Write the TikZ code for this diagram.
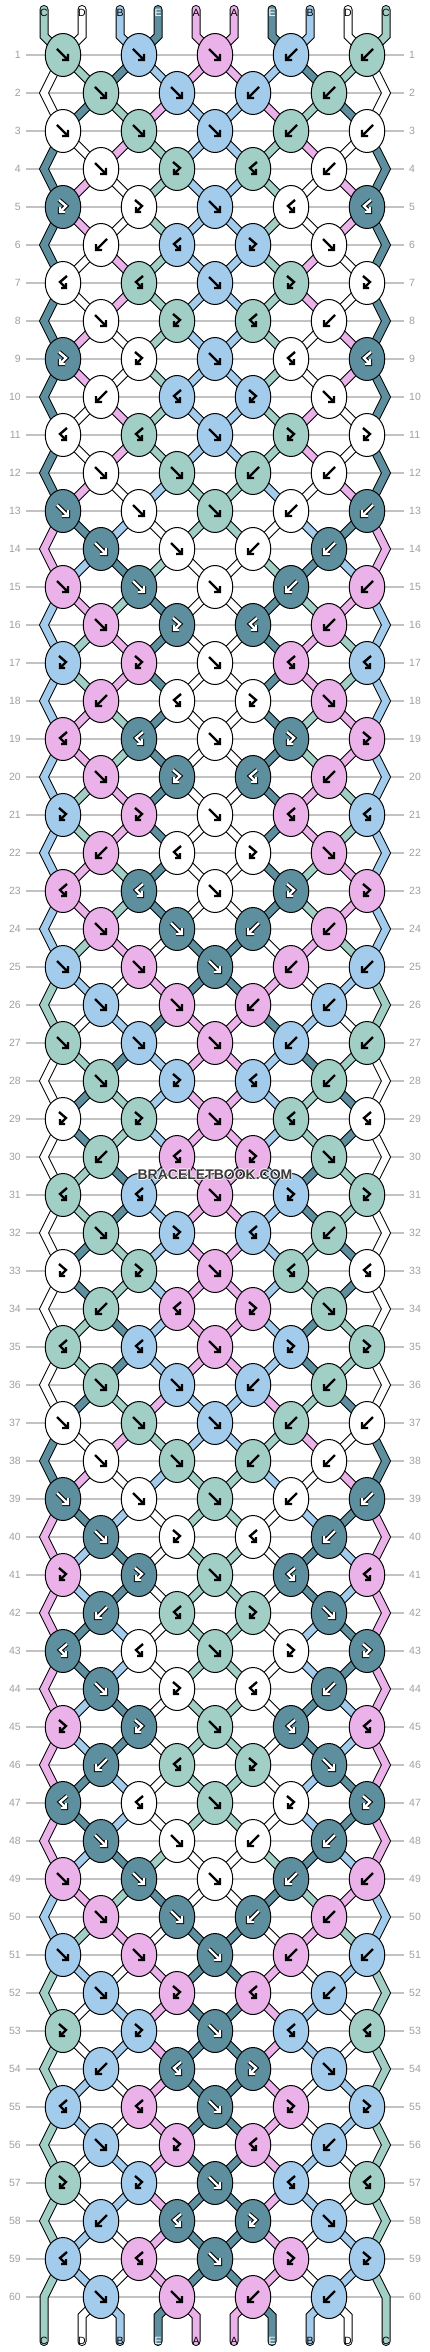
\documentclass[tikz,border=0pt]{standalone}
\usepackage{fontspec}
\setmainfont{Liberation Sans}
\usetikzlibrary{shapes.geometric}
\definecolor{colA}{HTML}{EBB2E9}
\definecolor{colB}{HTML}{A3CBEC}
\definecolor{colC}{HTML}{A1CEC5}
\definecolor{colD}{HTML}{FFFFFF}
\definecolor{colE}{HTML}{5E8F9F}
\definecolor{gridgray}{HTML}{C2C2C2}
\definecolor{numgray}{HTML}{A0A0A0}
\definecolor{wmgray}{HTML}{3A3A3A}
\pgfdeclarelayer{grid}
\pgfdeclarelayer{strings}
\pgfsetlayers{grid,strings,main}

\newcommand\St[2]{\csname st-#1-#2\endcsname}
\newcommand\KI[2]{\the\numexpr\ifodd#2 #1/2\else(#1-1)/2\fi\relax}
\def\typesP{1,1,1,2,2}
\def\typesQ{1,1,2,2}
\def\typesR{1,3,4,2}
\def\typesS{3,3,1,4,4}
\def\typesT{2,4,3,1}
\def\typesU{4,4,1,3,3}

\tikzset{
  knot/.style={ellipse, draw=black, line width=1pt, minimum width=35.5pt, minimum height=43pt, inner sep=0pt},
  strout/.style={line width=9pt, draw=black, line join=miter, line cap=round},
  strin/.style={line width=7pt, line join=miter, line cap=round},
  arr/.style={line width=2.4pt, draw=black, line cap=butt, line join=miter},
  arrout/.style={line width=4.4pt, draw=black, line cap=butt, line join=miter},
  arrwhite/.style={line width=2.4pt, draw=white, line cap=butt, line join=miter},
  numlbl/.style={text=numgray, font=\fontsize{10.5}{12}\selectfont, inner sep=0pt},
  lbl/.style={font=\fontsize{10.5}{12}\selectfont, inner sep=0pt},
  rowline/.style={draw=gridgray, line width=1.2pt},
  wm/.style={font=\bfseries\fontsize{14}{16}\selectfont, inner sep=0pt},
}

\newcommand\DrawStr[2]{\draw[strout] #2; \draw[strin, draw=#1] #2;}
\newcommand\ArrDraw[2]{%
  \ifnum#1=1
    \draw[arrout] #2; \draw[arrwhite] #2;
  \else
    \draw[arr] #2;
  \fi}
\newcommand\DrawArrow[3]{%
  \begin{scope}[shift={(#2.center)}]
  \ifcase#1\or
    \ArrDraw{#3}{(-6,-6) -- (5,5) (5,-1) -- (5,5) -- (-1,5)}%
  \or
    \ArrDraw{#3}{(6,-6) -- (-5,5) (-5,-1) -- (-5,5) -- (1,5)}%
  \or
    \ArrDraw{#3}{(-4,-7) -- (3,-1) -- (-3,5) (-3,0) -- (-3,5) -- (2,5)}%
  \or
    \ArrDraw{#3}{(4,-7) -- (-3,-1) -- (3,5) (3,0) -- (3,5) -- (-2,5)}%
  \fi
  \end{scope}}

\begin{document}
\begin{tikzpicture}[x=1pt, y=-1pt]
\useasboundingbox (0,0) rectangle (430,2352);
\begin{pgfonlayer}{grid}
  \fill[white] (0,0) rectangle (430,2352);
\end{pgfonlayer}

% initial strings, ends and labels
\foreach \ps/\lt in {1/C,2/D,3/B,4/E,5/A,6/A,7/E,8/B,9/D,10/C}{%
  \expandafter\xdef\csname st-1-\ps\endcsname{\lt}%
  \edef\xv{\the\numexpr 6+38*\ps\relax}%
  \edef\lc{\if E\lt white\else black\fi}%
  \coordinate (t\ps) at (\xv,9.5);
  \coordinate (tb\ps) at (\xv,36);
  \coordinate (bb\ps) at (\xv,2316);
  \coordinate (b\ps) at (\xv,2341.5);
  \node[lbl, text=\lc] (lt\ps) at (\xv,12.7) {\lt};
  \node[lbl, text=\lc] (lb\ps) at (\xv,2341) {\lt};
}

% rows of knots
\foreach \rw/\pat in {1/P,2/Q,3/P,4/R,5/S,6/T,7/U,8/R,9/S,10/T,11/U,12/Q,13/P,14/Q,15/P,16/R,17/S,18/T,19/U,20/R,21/S,22/T,23/U,24/Q,25/P,26/Q,27/P,28/R,29/S,30/T,31/U,32/R,33/S,34/T,35/U,36/Q,37/P,38/Q,39/P,40/R,41/S,42/T,43/U,44/R,45/S,46/T,47/U,48/Q,49/P,50/Q,51/P,52/R,53/S,54/T,55/U,56/R,57/S,58/T,59/U,60/Q}{%
  \edef\nx{\the\numexpr\rw+1\relax}%
  \edef\yv{\the\numexpr 17+38*\rw\relax}%
  \foreach \ps in {1,...,10}{\expandafter\xdef\csname st-\nx-\ps\endcsname{\St{\rw}{\ps}}}%
  \ifodd\rw\else
    \coordinate (eL\rw) at (44,\yv);
    \coordinate (eR\rw) at (386,\yv);
  \fi
  \node[numlbl, anchor=east] (nl\rw) at (21,\yv) {\rw};
  \node[numlbl, anchor=west] (nr\rw) at (409,\yv) {\rw};
  \begin{pgfonlayer}{grid}
    \draw[rowline] ([xshift=5]nl\rw.east) -- ([xshift=-5]nr\rw.west);
  \end{pgfonlayer}
  \edef\tl{\csname types\pat\endcsname}%
  \foreach \ty [count=\ki] in \tl {%
    \ifodd\rw
      \edef\posL{\the\numexpr 2*\ki-1\relax}\edef\kxv{\the\numexpr 63+76*(\ki-1)\relax}%
    \else
      \edef\posL{\the\numexpr 2*\ki\relax}\edef\kxv{\the\numexpr 101+76*(\ki-1)\relax}%
    \fi
    \edef\posR{\the\numexpr\posL+1\relax}%
    \edef\Ls{\St{\rw}{\posL}}\edef\Rs{\St{\rw}{\posR}}%
    \ifodd\ty \let\Ks\Ls \else \let\Ks\Rs \fi
    \ifnum\ty<3
      \expandafter\xdef\csname st-\nx-\posL\endcsname{\Rs}%
      \expandafter\xdef\csname st-\nx-\posR\endcsname{\Ls}%
    \fi
    \edef\dk{\if E\Ks 1\else 0\fi}%
    \node[knot, fill=col\Ks] (k\rw-\ki) at (\kxv,\yv) {};
    \DrawArrow{\ty}{k\rw-\ki}{\dk}%
  }%
}

% strings between knots
\begin{pgfonlayer}{strings}
\foreach \rw in {1,...,60}{%
  \edef\rp{\the\numexpr\rw-1\relax}%
  \edef\rpp{\the\numexpr\rw-2\relax}%
  \foreach \ps in {1,...,10}{%
    \edef\sc{\St{\rw}{\ps}}%
    \edef\kc{\KI{\ps}{\rw}}%
    \let\spath\empty
    \ifnum\rw=1
      \edef\spath{(t\ps) -- (tb\ps) -- (k1-\kc.center)}%
    \else
      \ifodd\rw
        \ifnum\ps=1
          \edef\spath{(k\rpp-1.center) -- (eL\rp) -- (k\rw-1.center)}%
        \else\ifnum\ps=10
          \edef\spath{(k\rpp-5.center) -- (eR\rp) -- (k\rw-5.center)}%
        \else
          \edef\spath{(k\rp-\KI{\ps}{\rp}.center) -- (k\rw-\kc.center)}%
        \fi\fi
      \else
        \ifnum\ps>1 \ifnum\ps<10
          \edef\spath{(k\rp-\KI{\ps}{\rp}.center) -- (k\rw-\kc.center)}%
        \fi\fi
      \fi
    \fi
    \ifx\spath\empty\else
      \edef\tmp{\noexpand\DrawStr{col\sc}{\spath}}\tmp
    \fi
  }%
}
\foreach \ps in {1,...,10}{%
  \edef\sc{\St{61}{\ps}}%
  \ifnum\ps=1
    \edef\spath{(k59-1.center) -- (eL60) -- (b1)}%
  \else\ifnum\ps=10
    \edef\spath{(k59-5.center) -- (eR60) -- (b10)}%
  \else
    \edef\spath{(k60-\KI{\ps}{60}.center) -- (bb\ps) -- (b\ps)}%
  \fi\fi
  \edef\tmp{\noexpand\DrawStr{col\sc}{\spath}}\tmp
}
\end{pgfonlayer}

% watermark
\node[wm, text=white, opacity=0.8] (wmh1) at (216,1175) {BRACELETBOOK.COM};
\node[wm, text=white, opacity=0.8] (wmh2) at (214,1175) {BRACELETBOOK.COM};
\node[wm, text=white, opacity=0.8] (wmh3) at (215,1176) {BRACELETBOOK.COM};
\node[wm, text=white, opacity=0.8] (wmh4) at (215,1174) {BRACELETBOOK.COM};
\node[wm, text=wmgray] (wm) at (215,1175) {BRACELETBOOK.COM};
\end{tikzpicture}
\end{document}
